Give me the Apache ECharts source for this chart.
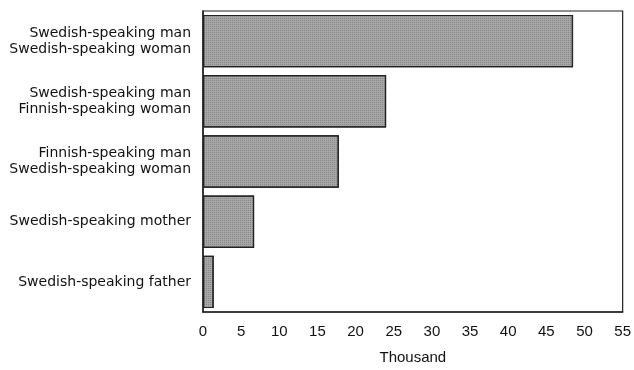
<!DOCTYPE html>
<html>
<head>
<meta charset="utf-8">
<script src="https://cdn.jsdelivr.net/npm/echarts@6/dist/echarts.min.js"></script>
<style>html,body{margin:0;padding:0;background:#fff;}#c{width:634px;height:370px;}</style>
</head>
<body>
<div id="c"></div>
<script>
var categories = [
  "Swedish-speaking man\nSwedish-speaking woman",
  "Swedish-speaking man\nFinnish-speaking woman",
  "Finnish-speaking man\nSwedish-speaking woman",
  "Swedish-speaking mother",
  "Swedish-speaking father"
];
var values = [48.5, 24.0, 17.8, 6.7, 1.4];
var xTicks = [0, 5, 10, 15, 20, 25, 30, 35, 40, 45, 50, 55];

var chart = echarts.init(document.getElementById('c'), null, {renderer: 'canvas'});
chart.setOption({
  animation: false,
  backgroundColor: '#fff',
  grid: {left: 203, right: 7, top: 11, bottom: 47, show: true, borderColor: '#222', borderWidth: 1.2},
  xAxis: {
    type: 'value', min: xTicks[0], max: xTicks[xTicks.length - 1], interval: 5,
    name: 'Thousand', nameLocation: 'middle', nameGap: 38,
    nameTextStyle: {fontFamily: 'Liberation Sans Narrow, Liberation Sans', fontSize: 15, color: '#111'},
    axisLine: {show: true, lineStyle: {color: '#222', width: 1.5}},
    axisTick: {show: false},
    splitLine: {show: false},
    axisLabel: {fontFamily: 'Liberation Sans Narrow, Liberation Sans', fontSize: 15, color: '#111', margin: 12}
  },
  yAxis: {
    type: 'category', inverse: true, data: categories,
    axisLine: {show: true, lineStyle: {color: '#222', width: 1.5}},
    axisTick: {show: false},
    axisLabel: {fontFamily: 'DejaVu Sans', fontSize: 14, color: '#111', margin: 12, lineHeight: 16, align: 'right'}
  },
  series: [{
    type: 'bar', data: values, barCategoryGap: '13%',
    itemStyle: {
      color: '#a6a6a6', borderColor: '#222', borderWidth: 1.2,
      decal: {symbol: 'rect', symbolSize: 1, dashArrayX: [1, 1], dashArrayY: [1, 1], color: 'rgba(80,80,80,0.35)', rotation: 0}
    }
  }]
});
</script>
</body>
</html>
